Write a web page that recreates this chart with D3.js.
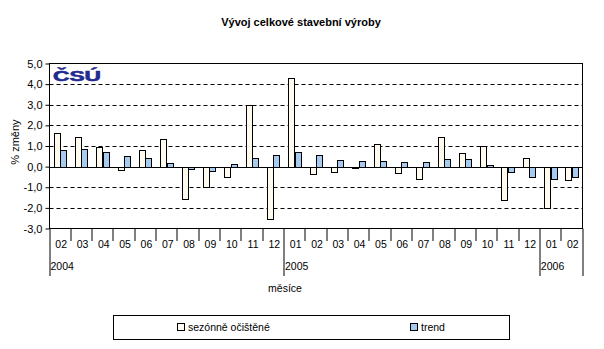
<!DOCTYPE html>
<html><head><meta charset="utf-8">
<script src="https://cdn.jsdelivr.net/npm/d3@7"></script>
<style>body{margin:0;background:#fff}svg{display:block}text{font-family:"Liberation Sans",Arial,sans-serif}</style>
</head><body><svg id="c" width="604" height="349"></svg>
<script>
const months = ["02","03","04","05","06","07","08","09","10","11","12","01","02","03","04","05","06","07","08","09","10","11","12","01","02"];
const years = [{label:"2004", start:0},{label:"2005", start:11},{label:"2006", start:23}];
const seasonal = [1.65,1.46,0.97,-0.15,0.83,1.36,-1.55,-0.97,-0.49,3.01,-2.52,4.32,-0.34,-0.24,-0.05,1.12,-0.29,-0.58,1.46,0.68,1.02,-1.6,0.44,-1.99,-0.63];
const trend = [0.83,0.87,0.73,0.53,0.44,0.19,-0.1,-0.19,0.15,0.44,0.58,0.73,0.58,0.34,0.29,0.29,0.24,0.24,0.39,0.39,0.1,-0.24,-0.49,-0.58,-0.49];
const yTicks = [5,4,3,2,1,0,-1,-2,-3];
const seriesNames = ["sezónně očištěné","trend"];
const colors = ["#fffbef","#a6caf0"];

const svg = d3.select("#c");
const L=49.5, R=582.5, T=63.5, B=228.5;
const idx = d3.range(months.length);
const x = d3.scaleBand().domain(idx).range([L,R]).paddingInner(0).paddingOuter(0);
const y = d3.scaleLinear().domain([-3,5]).range([B,T]);
const fmt = v => d3.format(".1f")(v).replace(".",",").replace("−","-");

// title
svg.append("text").attr("x",301).attr("y",26).attr("text-anchor","middle")
  .attr("font-size",11).attr("font-weight","bold").text("Vývoj celkové stavební výroby");

// grid
svg.append("g").selectAll("line").data(yTicks.filter(v=>v!==0&&v!==5&&v!==-3)).join("line")
  .attr("x1",L).attr("x2",R).attr("y1",v=>Math.round(y(v))+0.5).attr("y2",v=>Math.round(y(v))+0.5)
  .attr("stroke","#000").attr("stroke-dasharray","4,3");

// logo
svg.append("text").attr("x",53).attr("y",81).attr("font-family","DejaVu Sans").attr("font-weight","bold")
  .attr("font-size",14).attr("fill","#1f2b8f").attr("stroke","#1f2b8f").attr("stroke-width",0.6)
  .attr("textLength",48).attr("lengthAdjust","spacingAndGlyphs").text("ČSÚ");

// bars
const bw = x.bandwidth()*0.30;
const off = x.bandwidth()/2 - bw;
const g = svg.append("g");
[seasonal,trend].forEach((s,si)=>{
  g.selectAll(null).data(s).join("rect")
    .attr("x",(d,i)=>Math.round(x(i)+off+si*bw)+0.5)
    .attr("width",Math.round(bw))
    .attr("y",d=>Math.round(y(Math.max(0,d)))+0.5)
    .attr("height",d=>Math.max(0,Math.round(Math.abs(y(d)-y(0)))))
    .attr("fill",colors[si]).attr("stroke","#000").attr("stroke-width",1);
});

// zero line
svg.append("line").attr("x1",L).attr("x2",R).attr("y1",Math.round(y(0))+0.5).attr("y2",Math.round(y(0))+0.5).attr("stroke","#000");

// frame
svg.append("rect").attr("x",L).attr("y",T).attr("width",R-L).attr("height",B-T).attr("fill","none").attr("stroke","#000");

// y axis
const ya = svg.append("g").attr("transform",`translate(${L},0)`)
  .call(d3.axisLeft(y).tickValues(yTicks).tickSize(4).tickFormat(fmt));
ya.select(".domain").remove();
ya.selectAll(".tick line").attr("stroke","#000");
ya.selectAll(".tick text").attr("font-family","Liberation Sans, Arial").attr("font-size",11).attr("fill","#000").attr("x",-7);

svg.append("text").attr("transform","translate(19,142) rotate(-90)").attr("text-anchor","middle")
  .attr("font-size",11).text("% změny");

// x axis: category ticks between bands
const xb = svg.append("g");
xb.selectAll("line").data(d3.range(months.length+1)).join("line")
  .attr("x1",i=>Math.round(L+i*x.step())).attr("x2",i=>Math.round(L+i*x.step()))
  .attr("y1",B).attr("y2",i=>(i===0||i===months.length||years.some(yy=>yy.start===i))?276:241)
  .attr("stroke","#000");
xb.selectAll("text.m").data(months).join("text").attr("class","m")
  .attr("x",(d,i)=>x(i)+x.bandwidth()/2+1).attr("y",248).attr("text-anchor","middle")
  .attr("font-size",10.5).text(d=>d);
xb.selectAll("text.y").data(years).join("text").attr("class","y")
  .attr("x",d=>L+d.start*x.step()+1).attr("y",270).attr("font-size",10.5).text(d=>d.label);
svg.append("text").attr("x",285).attr("y",292).attr("text-anchor","middle").attr("font-size",10.5).text("měsíce");

// legend
svg.append("rect").attr("x",113.5).attr("y",315.5).attr("width",396).attr("height",24).attr("fill","#fff").attr("stroke","#000");
const lx=[177,410];
seriesNames.forEach((n,i)=>{
  svg.append("rect").attr("x",lx[i]+0.5).attr("y",323.5).attr("width",7).attr("height",7).attr("fill",colors[i]).attr("stroke","#000");
  svg.append("text").attr("x",lx[i]+11).attr("y",331).attr("font-size",10.5).text(n);
});
</script></body></html>
